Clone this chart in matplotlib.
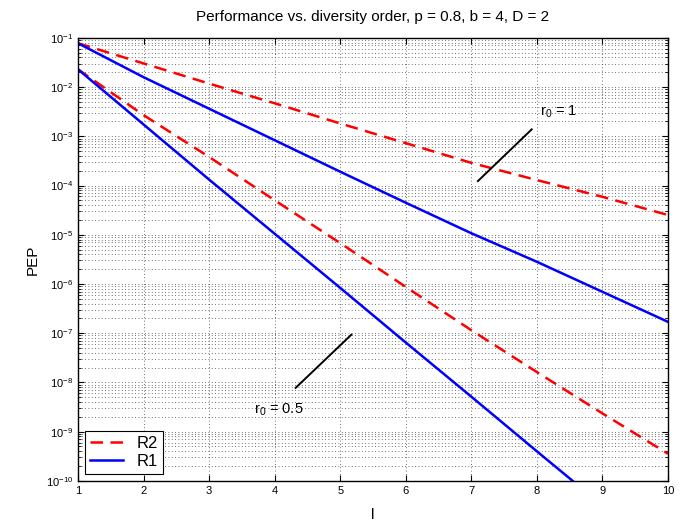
import numpy as np
import matplotlib
matplotlib.use('Agg')
import matplotlib.pyplot as plt
from matplotlib.ticker import LogLocator, NullFormatter

plt.rcParams['font.family'] = ['Liberation Sans', 'DejaVu Sans']
plt.rcParams['mathtext.fontset'] = 'custom'
plt.rcParams['mathtext.rm'] = 'Liberation Sans'

# diversity order l
L = [1, 2, 3, 4, 5, 6, 7, 8, 9, 10]
# log10(PEP)
r2_r1 = [-1.11, -1.52, -1.93, -2.33, -2.74, -3.14, -3.54, -3.89, -4.23, -4.60]
r1_r1 = [-1.11, -1.80, -2.44, -3.08, -3.72, -4.35, -4.97, -5.55, -6.16, -6.77]
r2_r05 = [-1.64, -2.57, -3.42, -4.30, -5.17, -6.06, -6.94, -7.79, -8.63, -9.45]
r1_r05 = [-1.64, -2.76, -3.88, -4.98, -6.08, -7.19, -8.29, -9.40, -10.50, -11.60]

fig = plt.figure(figsize=(6.81, 5.25), dpi=100)
ax = fig.add_axes([0.1145, 0.084, 0.8665, 0.844])

pep = lambda v: 10 ** np.array(v)
ax.semilogy(L, pep(r2_r1), 'r--', lw=1.8, dashes=(5, 3), label='R2')
ax.semilogy(L, pep(r1_r1), 'b-', lw=1.8, label='R1')
ax.semilogy(L, pep(r2_r05), 'r--', lw=1.8, dashes=(5, 3))
ax.semilogy(L, pep(r1_r05), 'b-', lw=1.8)

# annotation lines
ax.plot([7.10, 7.92], [10 ** -3.91, 10 ** -2.86], 'k-', lw=1.4)
ax.text(8.05, 10 ** -2.51, r'r$_0$ = 1', fontsize=10.5, va='center')
ax.plot([4.32, 5.17], [10 ** -8.11, 10 ** -7.03], 'k-', lw=1.4)
ax.text(3.68, 10 ** -8.55, r'r$_0$ = 0.5', fontsize=10.5, va='center')

ax.set_xlim(1, 10)
ax.set_ylim(1e-10, 1e-1)
ax.set_xticks(range(1, 11))
ax.yaxis.set_major_locator(LogLocator(base=10, numticks=20))
ax.yaxis.set_minor_locator(LogLocator(base=10, subs=np.arange(2, 10), numticks=20))
ax.yaxis.set_minor_formatter(NullFormatter())
ax.tick_params(which='both', direction='in', top=True, right=True, labelsize=8)
ax.tick_params(which='major', length=4)
ax.tick_params(which='minor', length=2)
grid_style = dict(ls=(0, (1, 3)), color='0.25', lw=0.6)
ax.grid(True, which='major', **grid_style)
ax.grid(True, which='minor', axis='y', **grid_style)
for s in ax.spines.values():
    s.set_linewidth(1.0)

ax.set_title('Performance vs. diversity order, p = 0.8, b = 4, D = 2', fontsize=11, pad=12)
ax.set_xlabel('l', fontsize=11, labelpad=9)
ax.set_ylabel('PEP', fontsize=11, labelpad=4)

leg = ax.legend(loc='lower left', fontsize=12, fancybox=False, framealpha=1,
                edgecolor='k', handlelength=2.0, borderaxespad=0.4,
                borderpad=0.3, labelspacing=0.2)
leg.get_frame().set_linewidth(0.8)

fig.savefig('out.png', dpi=100)
